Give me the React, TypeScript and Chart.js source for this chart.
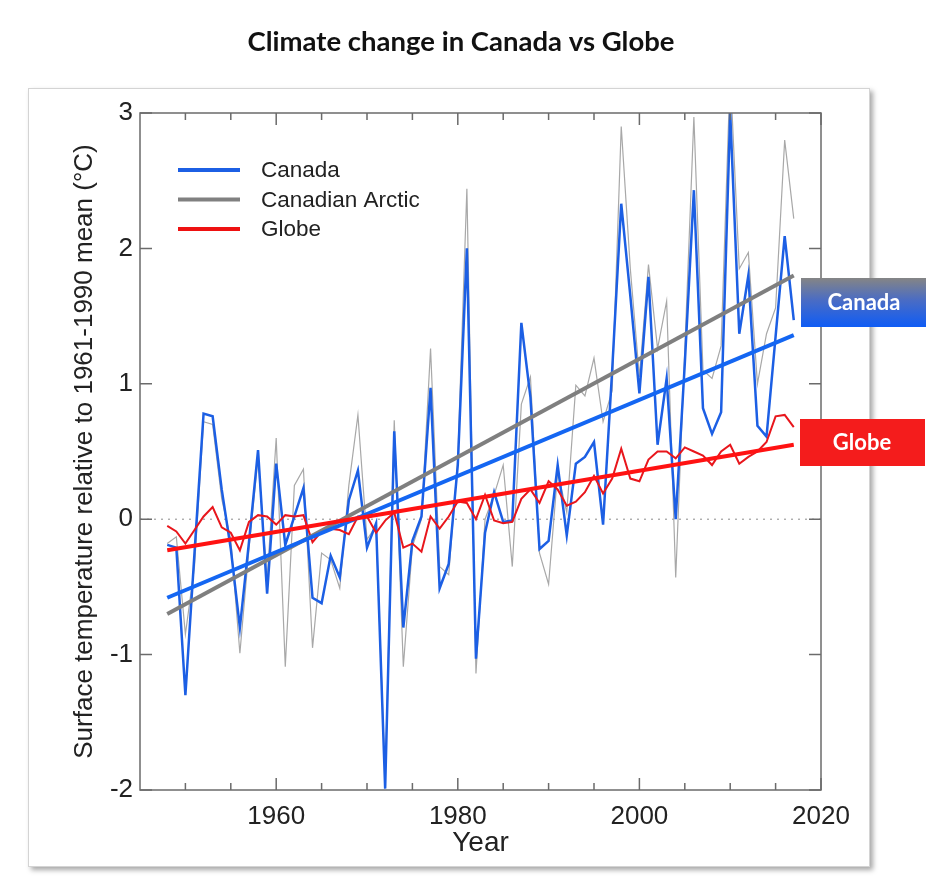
import React, { useEffect, useRef } from "react";
import { Chart, registerables } from "chart.js";

Chart.register(...registerables);

const years = [
  1948, 1949, 1950, 1951, 1952, 1953, 1954, 1955, 1956, 1957,
  1958, 1959, 1960, 1961, 1962, 1963, 1964, 1965, 1966, 1967,
  1968, 1969, 1970, 1971, 1972, 1973, 1974, 1975, 1976, 1977,
  1978, 1979, 1980, 1981, 1982, 1983, 1984, 1985, 1986, 1987,
  1988, 1989, 1990, 1991, 1992, 1993, 1994, 1995, 1996, 1997,
  1998, 1999, 2000, 2001, 2002, 2003, 2004, 2005, 2006, 2007,
  2008, 2009, 2010, 2011, 2012, 2013, 2014, 2015, 2016, 2017,
];

const canada = [
  -0.19, -0.21, -1.3, -0.25, 0.78, 0.76, 0.22, -0.22, -0.8, -0.17,
  0.51, -0.55, 0.41, -0.19, 0.02, 0.23, -0.58, -0.62, -0.27, -0.43,
  0.14, 0.36, -0.21, -0.03, -1.99, 0.65, -0.8, -0.16, 0.02, 0.97,
  -0.51, -0.33, 0.4, 2.0, -1.03, -0.1, 0.2, -0.02, -0.01, 1.45,
  0.9, -0.22, -0.16, 0.4, -0.12, 0.41, 0.46, 0.57, -0.04, 1.1,
  2.33, 1.65, 0.93, 1.79, 0.55, 1.04, 0.0, 1.15, 2.43, 0.82,
  0.63, 0.79, 3.0, 1.37, 1.8, 0.69, 0.61, 1.35, 2.09, 1.47,
];

const arctic = [
  -0.18, -0.13, -0.85, -0.35, 0.72, 0.7, 0.15, -0.15, -0.99, -0.22,
  0.45, -0.45, 0.6, -1.09, 0.25, 0.37, -0.95, -0.25, -0.3, -0.51,
  0.25, 0.77, -0.15, -0.05, -1.93, 0.73, -1.09, -0.2, 0.0, 1.26,
  -0.35, -0.41, 0.45, 2.44, -1.14, 0.0, 0.18, 0.4, -0.35, 0.85,
  1.05, -0.25, -0.48, 0.35, 0.05, 0.99, 0.91, 1.19, 0.72, 0.95,
  2.9, 1.85, 1.05, 1.88, 1.26, 1.61, -0.43, 1.25, 2.97, 1.1,
  1.04, 1.28, 3.3, 1.85, 1.97, 1.0, 1.37, 1.56, 2.8, 2.22,
];

const globe = [
  -0.05, -0.09, -0.18, -0.08, 0.02, 0.09, -0.06, -0.1, -0.23, -0.02,
  0.03, 0.02, -0.04, 0.03, 0.02, 0.03, -0.17, -0.09, -0.07, -0.08,
  -0.11, 0.02, 0.02, -0.1, -0.01, 0.05, -0.21, -0.18, -0.24, 0.02,
  -0.07, 0.02, 0.13, 0.12, 0.0, 0.18, -0.01, -0.03, -0.02, 0.15,
  0.22, 0.12, 0.28, 0.22, 0.1, 0.13, 0.2, 0.32, 0.19, 0.3,
  0.52, 0.3, 0.28, 0.44, 0.5, 0.5, 0.45, 0.53, 0.5, 0.47,
  0.4, 0.5, 0.55, 0.41, 0.46, 0.5, 0.57, 0.76, 0.77, 0.68,
];

const trendYears = [1948, 2017];
const canadaTrend = [-0.58, 1.36];
const arcticTrend = [-0.7, 1.8];
const globeTrend = [-0.23, 0.55];

const xMajorTicks = [1960, 1980, 2000, 2020];
const xMinorTicks = [1950, 1955, 1965, 1970, 1975, 1985, 1990, 1995, 2005, 2010, 2015];
const yTicks = [-2, -1, 0, 1, 2, 3];

const legendLabels = ["Canada", "Canadian Arctic", "Globe"];

const SANS = "'Liberation Sans', Arial, sans-serif";
const TITLE_FONT = "Lato, 'Open Sans', sans-serif";
const AXIS_COLOR = "#6b6b6b";

const pts = (xs: number[], ys: number[]) => xs.map((x, i) => ({ x, y: ys[i] }));

const decorPlugin = {
  id: "decor",
  beforeDatasetsDraw(chart: any) {
    const { ctx, chartArea: a, scales } = chart;
    const y0 = scales.y.getPixelForValue(0);
    ctx.save();
    ctx.strokeStyle = "#8c8c8c";
    ctx.lineWidth = 1;
    ctx.setLineDash([2, 5]);
    ctx.beginPath();
    ctx.moveTo(a.left, y0);
    ctx.lineTo(a.right, y0);
    ctx.stroke();
    ctx.restore();
  },
  afterDraw(chart: any) {
    const { ctx, chartArea: a, scales } = chart;
    const xs = scales.x;
    const ys = scales.y;
    ctx.save();
    ctx.strokeStyle = AXIS_COLOR;
    ctx.lineWidth = 1.5;
    ctx.strokeRect(a.left, a.top, a.right - a.left, a.bottom - a.top);
    ctx.beginPath();
    const xTick = (v: number, len: number) => {
      const px = xs.getPixelForValue(v);
      ctx.moveTo(px, a.bottom);
      ctx.lineTo(px, a.bottom - len);
      ctx.moveTo(px, a.top);
      ctx.lineTo(px, a.top + len);
    };
    xMajorTicks.forEach((v) => xTick(v, 12));
    xMinorTicks.forEach((v) => xTick(v, 7));
    yTicks.forEach((v) => {
      const py = ys.getPixelForValue(v);
      ctx.moveTo(a.left, py);
      ctx.lineTo(a.left + 12, py);
      ctx.moveTo(a.right, py);
      ctx.lineTo(a.right - 12, py);
    });
    ctx.stroke();

    // legend
    const legendColors = ["#1c5fe4", "#808080", "#ee1111"];
    ctx.font = `22.5px ${SANS}`;
    ctx.textBaseline = "middle";
    ctx.textAlign = "left";
    legendLabels.forEach((lab, i) => {
      const ly = 170 + i * 29.5;
      ctx.strokeStyle = legendColors[i];
      ctx.lineWidth = 4;
      ctx.beginPath();
      ctx.moveTo(178, ly);
      ctx.lineTo(240, ly);
      ctx.stroke();
      ctx.fillStyle = "#222";
      ctx.fillText(lab, 261, ly + 1);
    });

    // side labels
    const g = ctx.createLinearGradient(0, 278, 0, 327);
    g.addColorStop(0, "#858585");
    g.addColorStop(0.45, "#4a6cc4");
    g.addColorStop(1, "#0f5cf5");
    ctx.fillStyle = g;
    ctx.fillRect(801, 278, 125, 49);
    ctx.fillStyle = "#f41c1c";
    ctx.fillRect(800, 419, 125, 47);
    ctx.fillStyle = "#ffffff";
    ctx.textAlign = "center";
    ctx.font = `bold 22px ${TITLE_FONT}`;
    ctx.fillText("Canada", 864, 303);
    ctx.fillText("Globe", 862, 443);

    // title
    ctx.fillStyle = "#111";
    ctx.font = `bold 27.5px ${TITLE_FONT}`;
    ctx.fillText("Climate change in Canada vs Globe", 461, 42);
    ctx.restore();
  },
};

export default function App() {
  const ref = useRef<HTMLCanvasElement>(null);
  useEffect(() => {
    const chart = new Chart(ref.current as HTMLCanvasElement, {
      type: "line",
      data: {
        datasets: [
          { label: "Globe trend", data: pts(trendYears, globeTrend), borderColor: "#ff1212", borderWidth: 4, order: 0 },
          { label: "Canada trend", data: pts(trendYears, canadaTrend), borderColor: "#1466f2", borderWidth: 4, order: 1 },
          { label: "Arctic trend", data: pts(trendYears, arcticTrend), borderColor: "#7f7f7f", borderWidth: 4, order: 2 },
          { label: "Globe", data: pts(years, globe), borderColor: "#e8161c", borderWidth: 2, order: 3 },
          { label: "Canada", data: pts(years, canada), borderColor: "#1c5fe4", borderWidth: 2.5, order: 4 },
          { label: "Canadian Arctic", data: pts(years, arctic), borderColor: "#a8a8a8", borderWidth: 1.2, order: 5 },
        ],
      },
      options: {
        animation: false,
        responsive: false,
        layout: { padding: { left: 0, top: 113, right: 127, bottom: 0 } },
        elements: { point: { radius: 0 }, line: { tension: 0 } },
        plugins: { legend: { display: false }, tooltip: { enabled: false }, title: { display: false } },
        scales: {
          x: {
            type: "linear",
            min: 1945,
            max: 2020,
            afterBuildTicks: (s: any) => {
              s.ticks = xMajorTicks.map((v) => ({ value: v }));
            },
            afterFit: (s: any) => {
              s.height = 100;
            },
            grid: { display: false, drawTicks: false },
            border: { display: false },
            ticks: {
              padding: 11,
              autoSkip: false,
              maxRotation: 0,
              color: "#222",
              font: { family: SANS, size: 26 },
              callback: (v: any) => String(v),
            },
            title: {
              display: true,
              text: "Year",
              color: "#222",
              font: { family: SANS, size: 28 },
              padding: { top: 0, bottom: 30 },
            },
          },
          y: {
            type: "linear",
            min: -2,
            max: 3,
            afterBuildTicks: (s: any) => {
              s.ticks = yTicks.map((v) => ({ value: v }));
            },
            afterFit: (s: any) => {
              s.width = 140;
            },
            grid: { display: false, drawTicks: false },
            border: { display: false },
            ticks: {
              padding: 7,
              color: "#222",
              font: { family: SANS, size: 26 },
              callback: (v: any) => String(v),
            },
            title: {
              display: true,
              text: "Surface temperature relative to 1961-1990 mean (°C)",
              color: "#222",
              font: { family: SANS, size: 26 },
              padding: { top: 69, bottom: 0 },
            },
          },
        },
      },
      plugins: [decorPlugin],
    });
    return () => chart.destroy();
  }, []);

  return (
    <div style={{ position: "fixed", left: 0, top: 0, width: 948, height: 890, background: "#fff" }}>
      <div
        style={{
          position: "absolute",
          left: 28,
          top: 88,
          width: 840,
          height: 777,
          border: "1px solid #d4d4d4",
          boxShadow: "3px 3px 5px rgba(0,0,0,0.35)",
          background: "#fff",
        }}
      />
      <canvas ref={ref} width={948} height={890} style={{ position: "absolute", left: 0, top: 0 }} />
    </div>
  );
}
